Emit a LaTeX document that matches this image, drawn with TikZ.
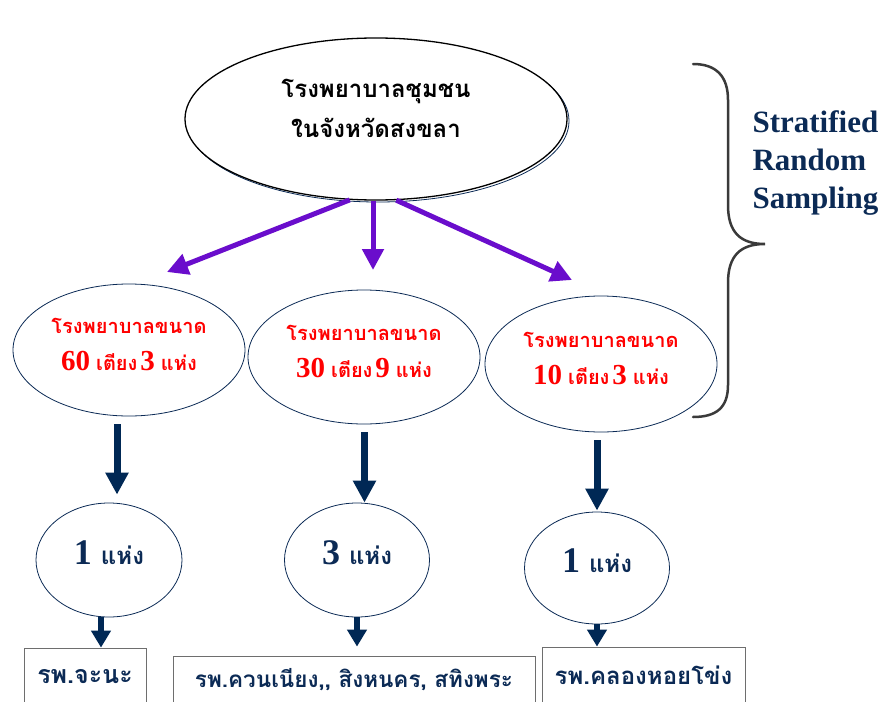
\documentclass[tikz,border=0pt]{standalone}
\usepackage{fontspec}
\usepackage{tikz}
\usetikzlibrary{shapes.geometric,arrows.meta}
\newfontfamily\thaifont[Script=Thai]{Loma}
\newfontfamily\numfont{Liberation Serif}
\definecolor{darknavy}{HTML}{0B2A55}
\definecolor{arrownavy}{HTML}{002855}
\definecolor{hotred}{HTML}{FF0000}
\definecolor{deeppurple}{HTML}{6A0DCC}
\definecolor{bracegray}{HTML}{3A3A3A}
\definecolor{boxgray}{HTML}{6E6E6E}
\newcommand{\beds}[2]{{\thaifont\bfseries โรงพยาบาลขนาด}\\
  {\fontsize{29}{37}\numfont\bfseries #1}\hspace{6pt}{\thaifont\bfseries เตียง}\hspace{3pt}%
  {\fontsize{29}{37}\numfont\bfseries #2}\hspace{6pt}{\thaifont\bfseries แห่ง}}
\newcommand{\picked}[1]{{\fontsize{36}{40}\numfont\bfseries #1}\hspace{9pt}{\fontsize{24}{40}\thaifont\bfseries แห่ง}}

\begin{document}
\begin{tikzpicture}[x=1pt,y=-1pt,
  bubble/.style={ellipse,draw=darknavy,line width=0.8pt,inner sep=0pt,align=center},
  stratum/.style={bubble,minimum width=232pt,text=hotred,font=\fontsize{20}{37}\selectfont,text depth=12pt},
  sample/.style={bubble,minimum width=145pt,text=darknavy,text depth=15pt},
  fanarrow/.style={draw=deeppurple,line width=5pt,-{Triangle[width=21pt,length=21pt]}},
  dropbig/.style={draw=arrownavy,line width=7pt,-{Triangle[width=22pt,length=22pt]}},
  dropsmall/.style={draw=arrownavy,line width=5.5pt,-{Triangle[width=19pt,length=17pt]}},
  hospbox/.style={rectangle,draw=boxgray,line width=0.8pt,inner sep=0pt,text=darknavy}]
\useasboundingbox (0,0) rectangle (885,701);

% population (thin shadow line first)
\draw[darknavy,line width=0.8pt] (378,121) ellipse (191 and 81);
\node[ellipse,draw=black,fill=white,line width=1.3pt,inner sep=0pt,align=center,
      minimum width=382pt,minimum height=162pt,text depth=22pt,
      font=\fontsize{24}{40}\thaifont\bfseries] (top) at (376,119)
      {โรงพยาบาลชุมชน\\ในจังหวัดสงขลา};

% strata
\node[stratum,minimum height=132pt] (m1) at (129,350) {\beds{60}{3}};
\node[stratum,minimum height=134pt] (m2) at (364,357) {\beds{30}{9}};
\node[stratum,minimum height=136pt] (m3) at (601,364) {\beds{10}{3}};

% samples
\node[sample,minimum height=114pt,minimum width=146pt] (b1) at (109,560) {\picked{1}};
\node[sample,minimum height=114pt] (b2) at (357,560) {\picked{3}};
\node[sample,minimum height=112pt] (b3) at (597,568) {\picked{1}};

% chosen hospitals (boxes run off the bottom)
\node[hospbox,minimum width=122pt,minimum height=58pt,font=\fontsize{25}{28}\thaifont\bfseries] (h1) at (85,677) {รพ.จะนะ};
\node[hospbox,minimum width=362pt,minimum height=48pt,font=\fontsize{22.5}{26}\thaifont\bfseries] (h2) at (354,680) {รพ.ควนเนียง,, สิงหนคร, สทิงพระ};
\node[hospbox,minimum width=203pt,minimum height=56pt,font=\fontsize{24}{28}\thaifont\bfseries] (h3) at (643.5,675) {รพ.คลองหอยโข่ง};

% fan out
\coordinate (tipL) at (167,272);
\coordinate (tipM) at (373,270);
\coordinate (tipR) at (572,280);
\draw[fanarrow] (top.252) -- (tipL);
\draw[fanarrow] (top.south -| tipM) -- (tipM);
\draw[fanarrow] (top.284) -- (tipR);

% down arrows
\draw[dropbig] ([xshift=-12pt,yshift=-8pt]m1.south) -- ([xshift=-12pt,yshift=8pt]m1.south |- b1.north);
\draw[dropbig] ([xshift=0.5pt,yshift=-8pt]m2.south) -- ([xshift=0.5pt]m2.south |- b2.north);
\draw[dropbig] ([xshift=-4pt,yshift=-8pt]m3.south) -- ([xshift=-4pt,yshift=1pt]m3.south |- b3.north);

\draw[dropsmall] ([xshift=-8pt]b1.south) -- ([xshift=-8pt]b1.south |- h1.north);
\draw[dropsmall] (b2.south) -- ([yshift=9pt]b2.south |- h2.north);
\draw[dropsmall] (b3.south) -- (b3.south |- h3.north);

% brace
\draw[bracegray,line width=2.5pt,line cap=round]
  (693,64) .. controls (716,64) and (728,76) .. (728,100) -- (728,205)
  .. controls (728,232) and (740,244) .. (765,244)
  .. controls (740,244) and (728,256) .. (728,283) -- (728,385)
  .. controls (728,408) and (716,417) .. (693,417);
\node[anchor=west,align=left,text=darknavy,font=\fontsize{31}{38}\numfont\bfseries] (method) at (749,163)
  {Stratified\\Random\\Sampling};
\end{tikzpicture}
\end{document}
